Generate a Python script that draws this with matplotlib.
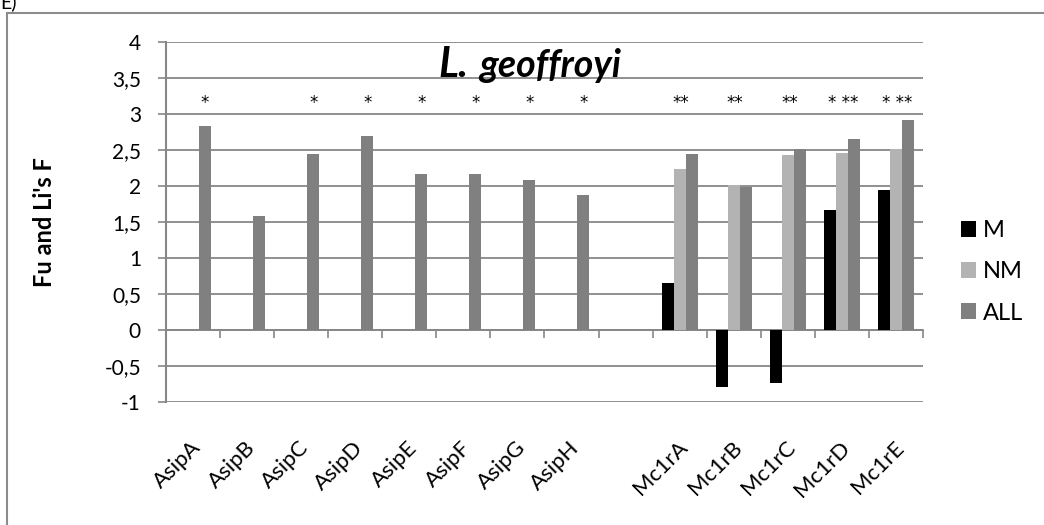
import numpy as np
import matplotlib.pyplot as plt
from matplotlib.patches import Rectangle
from matplotlib.ticker import FuncFormatter
from matplotlib.transforms import blended_transform_factory

plt.rcParams['font.family'] = ['Lato', 'DejaVu Sans']

# ---------------- data ----------------
genes = ['AsipA', 'AsipB', 'AsipC', 'AsipD', 'AsipE', 'AsipF', 'AsipG', 'AsipH', '',
         'Mc1rA', 'Mc1rB', 'Mc1rC', 'Mc1rD', 'Mc1rE']
nan = np.nan
M_vals   = [nan, nan, nan, nan, nan, nan, nan, nan, nan, 0.65, -0.79, -0.74, 1.67, 1.95]
NM_vals  = [nan, nan, nan, nan, nan, nan, nan, nan, nan, 2.24, 2.01, 2.43, 2.46, 2.52]
ALL_vals = [2.84, 1.59, 2.44, 2.69, 2.16, 2.17, 2.08, 1.87, nan, 2.45, 1.98, 2.51, 2.65, 2.91]
stars = ['*', '', '*', '*', '*', '*', '*', '*', '', '**', '**', '**', '* **', '* **']
yticks = [-1, -0.5, 0, 0.5, 1, 1.5, 2, 2.5, 3, 3.5, 4]

grid_col = '#878787'
fig = plt.figure(figsize=(10.44, 5.25), dpi=100)
ax = fig.add_axes([0.159, 0.2343, 0.725, 0.6857])

x = np.arange(len(genes))
w = 1 / 4.5
ax.bar(x - w, M_vals, w, color='#000000', label='M', zorder=3)
ax.bar(x, NM_vals, w, color='#b3b3b3', label='NM', zorder=3)
ax.bar(x + w, ALL_vals, w, color='#808080', label='ALL', zorder=3)

ax.set_xlim(-0.5, len(genes) - 0.5)
ax.set_ylim(-1, 4)
ax.set_yticks(yticks)
ax.yaxis.set_major_formatter(FuncFormatter(lambda v, p: ('%g' % v).replace('.', ',')))
ax.tick_params(axis='y', length=6, width=1.2, color=grid_col, pad=12, labelsize=15)
ax.grid(axis='y', color=grid_col, linewidth=1.3, zorder=0)
ax.set_axisbelow(True)

for s in ['top', 'right']:
    ax.spines[s].set_visible(False)
ax.spines['left'].set_color(grid_col)
ax.spines['left'].set_linewidth(1.5)
ax.spines['bottom'].set_position(('data', 0))
ax.spines['bottom'].set_color(grid_col)
ax.spines['bottom'].set_linewidth(1.3)
ax.set_xticks(np.arange(len(genes) + 1) - 0.5)
ax.set_xticklabels([])
ax.tick_params(axis='x', length=6, width=1.2, color=grid_col)

# category labels under the plot area
tr = blended_transform_factory(ax.transData, ax.transAxes)
for i, g in enumerate(genes):
    ax.text(i + 0.09, -0.118, g, transform=tr, rotation=45, rotation_mode='anchor',
            ha='right', va='center', fontsize=16)

# significance marks
for i, s in enumerate(stars):
    if not s:
        continue
    xs = i + w if len(s) == 1 else i + 0.03
    ax.text(xs, 3.08, s, ha='center', va='baseline', fontsize=12, family='DejaVu Sans')

ax.set_ylabel("Fu and Li's F", fontsize=17, fontweight='bold')
ax.yaxis.set_label_coords(-0.145, 0.5)

# title inside the plot
fig.text(438 / 1044, 1 - 77 / 525, 'L.', fontsize=30, fontweight='bold', style='italic',
         ha='left', va='baseline')
fig.text(479 / 1044, 1 - 77 / 525, 'geoffroyi', fontsize=27, fontweight='bold', style='italic',
         ha='left', va='baseline')

ax.legend(loc='center left', bbox_to_anchor=(0.9, 0.482), bbox_transform=fig.transFigure,
          frameon=False, fontsize=17, handlelength=0.65, handleheight=0.65,
          labelspacing=0.85, handletextpad=0.3)

# chart frame and panel letter
fig.patches.append(Rectangle((7 / 1044, -0.2), 1.2, 1.2 - 13 / 525,
                             transform=fig.transFigure, fill=False,
                             edgecolor='#8c8c8c', linewidth=1.5))
fig.text(0.0, 1 - 8 / 525, 'E)', fontsize=14, ha='left', va='baseline')

fig.savefig('out.png', dpi=100)
